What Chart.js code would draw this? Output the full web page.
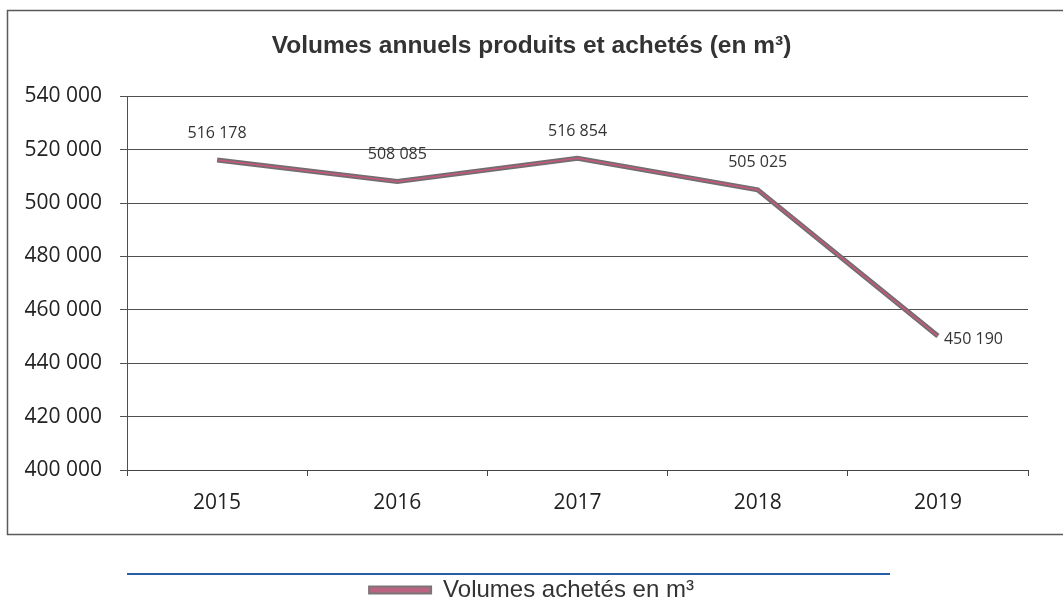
<!DOCTYPE html>
<html lang="fr">
<head>
<meta charset="utf-8">
<title>Volumes annuels produits et achetés</title>
<script src="https://cdn.jsdelivr.net/npm/chart.js@4"></script>
<style>
  html, body { margin: 0; padding: 0; background: #fff; }
  #graphique { display: block; }
</style>
</head>
<body>
<canvas id="graphique" width="1063" height="600"></canvas>
<script>
// Données du graphique
const annees = ["2015", "2016", "2017", "2018", "2019"];
const volumesAchetes = [516178, 508085, 516854, 505025, 450190];
const axeMin = 400000;
const axeMax = 540000;
const axePas = 20000;

const titre = "Volumes annuels produits et achetés (en m³)";
const libelleSerie = "Volumes achetés en m³";

// Format français : espace pour les milliers
function formatNombre(v) {
  return String(v).replace(/\B(?=(\d{3})+(?!\d))/g, " ");
}

// Cadre du graphique + trait bleu au-dessus de la légende
const cadrePlugin = {
  id: "cadre",
  beforeDraw(chart) {
    const ctx = chart.ctx;
    ctx.save();
    ctx.fillStyle = "#fff";
    ctx.fillRect(0, 0, chart.width, chart.height);
    ctx.strokeStyle = "#5a5a5a";
    ctx.lineWidth = 1.5;
    ctx.strokeRect(7.5, 10.5, chart.width + 20, 524);
    ctx.restore();
  },
  afterDraw(chart) {
    const ctx = chart.ctx;
    ctx.save();
    ctx.strokeStyle = "#2b5ea8";
    ctx.lineWidth = 2;
    ctx.beginPath();
    ctx.moveTo(127, 574);
    ctx.lineTo(890, 574);
    ctx.stroke();
    ctx.restore();
  }
};

// Étiquettes de valeurs sur les points
const etiquettesPlugin = {
  id: "etiquettes",
  afterDatasetsDraw(chart) {
    const ctx = chart.ctx;
    const meta = chart.getDatasetMeta(0);
    ctx.save();
    ctx.font = "16px 'Open Sans'";
    ctx.fillStyle = "#333";
    ctx.textBaseline = "middle";
    meta.data.forEach((pt, i) => {
      const txt = formatNombre(volumesAchetes[i]);
      if (i === meta.data.length - 1) {
        ctx.textAlign = "left";
        ctx.fillText(txt, pt.x + 6, pt.y + 3);
      } else {
        ctx.textAlign = "center";
        ctx.fillText(txt, pt.x, pt.y - 27);
      }
    });
    ctx.restore();
  }
};

const ctx = document.getElementById("graphique").getContext("2d");
const graphique = new Chart(ctx, {
  type: "line",
  data: {
    labels: annees,
    datasets: [
      {
        label: libelleSerie,
        data: volumesAchetes,
        borderColor: "#736d70",
        backgroundColor: "#b8627e",
        borderWidth: 5,
        pointRadius: 0,
        tension: 0,
        fill: false,
        order: 2,
      },
      {
        label: "liseré",
        data: volumesAchetes,
        borderColor: "#c9587c",
        borderWidth: 1.5,
        pointRadius: 0,
        tension: 0,
        fill: false,
        order: 1,
      },
    ],
  },
  options: {
    responsive: false,
    animation: false,
    devicePixelRatio: 1,
    layout: {
      padding: { left: 0, right: 0, top: 0, bottom: -12 },
    },
    plugins: {
      tooltip: { enabled: false },
      title: {
        display: true,
        text: titre,
        color: "#333",
        font: { family: "'Liberation Sans'", size: 24.5, weight: "bold" },
        padding: { top: 32, bottom: 35 },
      },
      legend: {
        position: "bottom",
        labels: {
          color: "#333",
          font: { family: "'Liberation Sans'", size: 24 },
          boxWidth: 62,
          boxHeight: 7,
          padding: 10,
          generateLabels(chart) {
            return Chart.defaults.plugins.legend.labels.generateLabels(chart)
              .filter((item) => item.datasetIndex === 0)
              .map((item) => ({ ...item, fillStyle: "#bb6482", strokeStyle: "#7a7577", lineWidth: 2 }));
          },
        },
      },
    },
    scales: {
      x: {
        offset: true,
        grid: {
          offset: true,
          drawOnChartArea: false,
          drawTicks: true,
          tickLength: 6,
          color: "#444",
        },
        border: { display: true, color: "#444" },
        ticks: {
          color: "#222",
          padding: 14,
          font: { family: "'Open Sans'", size: 21 },
        },
        afterFit(scale) {
          scale.height = 98;
        },
      },
      y: {
        min: axeMin,
        max: axeMax,
        grid: {
          color: "#505050",
          lineWidth: 1,
          tickLength: 7,
        },
        border: { display: true, color: "#505050" },
        ticks: {
          stepSize: axePas,
          color: "#222",
          padding: 18,
          font: { family: "'Open Sans'", size: 21 },
          callback: (v) => formatNombre(v),
        },
        afterFit(scale) {
          scale.width = 127;
        },
      },
      // marge droite vide (axe invisible)
      droite: {
        position: "right",
        grid: { display: false },
        border: { display: false },
        ticks: { display: false },
        afterFit(scale) {
          scale.width = 35;
        },
      },
    },
  },
  plugins: [cadrePlugin, etiquettesPlugin],
});
</script>
</body>
</html>
